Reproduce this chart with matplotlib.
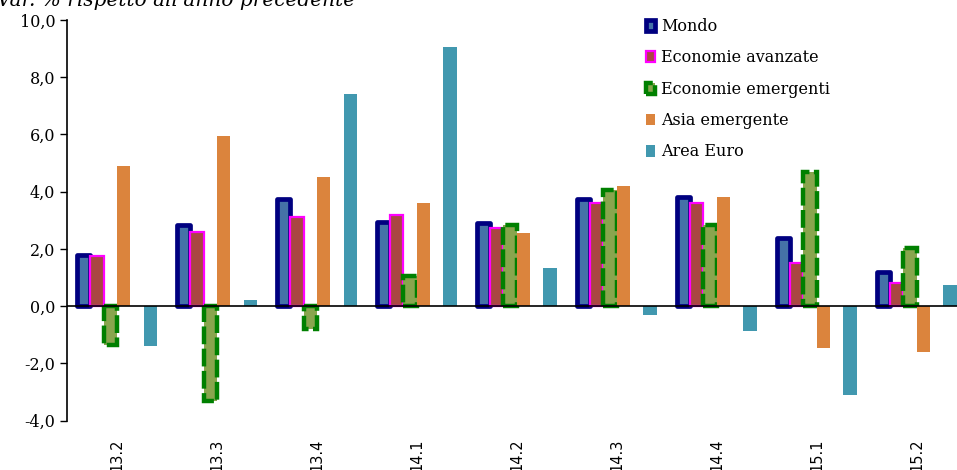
import numpy as np
import matplotlib.pyplot as plt
from matplotlib.ticker import FuncFormatter

# trimestri e variazioni % sull'anno precedente
trimestri = ['13.2', '13.3', '13.4', '14.1', '14.2',
             '14.3', '14.4', '15.1', '15.2']
mondo = [1.8, 2.85, 3.75, 2.95, 2.9, 3.75, 3.8, 2.4, 1.2]
avanzate = [1.75, 2.6, 3.1, 3.2, 2.75, 3.6, 3.6, 1.5, 0.8]
emergenti = [-1.35, -3.3, -0.8, 1.05, 2.85, 4.05, 2.85, 4.7, 2.05]
asia = [4.9, 5.95, 4.5, 3.6, 2.55, 4.2, 3.8, -1.45, -1.6]
euro = [-1.4, 0.2, 7.4, 9.05, 1.35, -0.3, -0.85, -3.1, 0.75]

plt.rcParams['font.family'] = ['DejaVu Serif']

fig = plt.figure(figsize=(9.57, 4.70), dpi=100)
ax = fig.add_axes([67 / 957, 49.3 / 470, 1 - 67 / 957, 400.7 / 470])

x = np.arange(len(trimestri))
w = 1 / 7.5  # 6 posizioni per gruppo, gap 150%

def off(k):
    return (k - 2.5) * w

ax.bar(x + off(0), mondo, w, color='#4572A7', edgecolor='#000080',
       linewidth=3.4, joinstyle='round', label='Mondo', zorder=2)
ax.bar(x + off(1), avanzate, w, color='#AA4643', edgecolor='#FF00FF',
       linewidth=1.6, label='Economie avanzate', zorder=2)
ax.bar(x + off(2), emergenti, w, color='#89A54E', edgecolor='#008000',
       linewidth=3.2, linestyle=(0, (4, 1)), label='Economie emergenti', zorder=2)
ax.bar(x + off(3), asia, w, color='#DB843D', linewidth=0,
       label='Asia emergente', zorder=2)
ax.bar(x + off(5), euro, w, color='#4198AF', linewidth=0,
       label='Area Euro', zorder=2)

ax.axhline(0, color='black', linewidth=1.2, zorder=4)

ax.set_ylim(-4, 10)
ax.set_xlim(-0.5, 8.405)
ax.set_yticks(np.arange(-4, 10.1, 2))
ax.yaxis.set_major_formatter(FuncFormatter(lambda v, p: f'{v:.1f}'.replace('.', ',')))
ax.tick_params(axis='y', length=5, width=1, pad=3.5, labelsize=11.5)

ax.set_xticks(x)
ax.set_xticklabels(trimestri, rotation=90, va='top', ha='center',
                   family='DejaVu Sans', fontsize=10.5)
ax.tick_params(axis='x', length=0, pad=13)

for s in ['top', 'right', 'bottom']:
    ax.spines[s].set_visible(False)
ax.spines['left'].set_linewidth(1.2)

fig.text(-3 / 957, 1 - 6 / 470, "Var. % rispetto all'anno precedente",
         style='italic', fontsize=14.5, va='baseline', ha='left')

fig.legend(loc='upper left', bbox_to_anchor=(646 / 957, 1 - 18 / 470),
           frameon=False, fontsize=11.5, handlelength=0.55, handleheight=0.7,
           handletextpad=0.4, labelspacing=0.9, borderpad=0, borderaxespad=0)

fig.savefig('out.png', dpi=100)
